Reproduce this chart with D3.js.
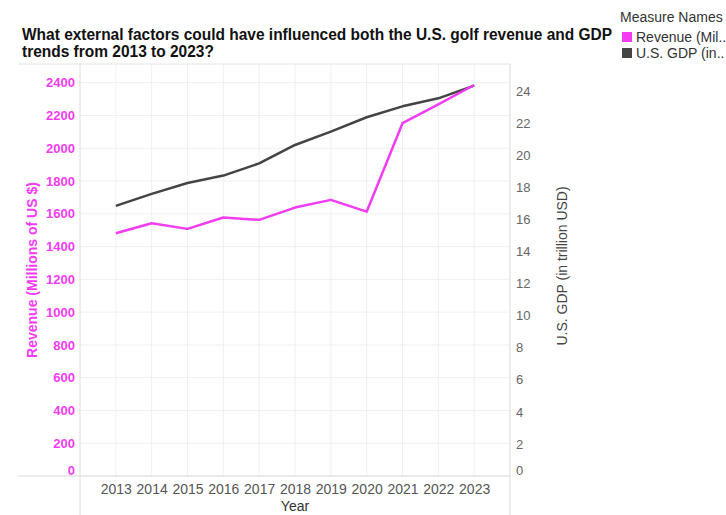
<!DOCTYPE html>
<html><head><meta charset="utf-8">
<script src="https://cdn.jsdelivr.net/npm/d3@7"></script>
<style>body{margin:0;background:#fff;}svg{display:block;}</style>
</head><body>
<svg id="c" width="726" height="515"></svg>
<script>
const years = ["2013","2014","2015","2016","2017","2018","2019","2020","2021","2022","2023"];
const revenue = [1481,1542,1508,1577,1563,1638,1685,1613,2153,2268,2386];
const gdp = [16.85,17.6,18.28,18.74,19.5,20.65,21.48,22.38,23.06,23.56,24.35];
const leftTicks = [0,200,400,600,800,1000,1200,1400,1600,1800,2000,2200,2400];
const rightTicks = [0,2,4,6,8,10,12,14,16,18,20,22,24];
const seriesNames = ["Revenue (Mil..","U.S. GDP (in.."];

const MAG = "#f23cf2", DARK = "#444444";
const svg = d3.select("#c");
const L = 80, R = 510, T = 64, B = 476;
const font = "Liberation Sans, Arial, sans-serif";

const x = d3.scalePoint().domain(years).range([L, R]).padding(1);
const yL = d3.scaleLinear().domain([0, 2514]).range([B, T]);
const yR = d3.scaleLinear().domain([0, 25.7]).range([B, T]);

// gridlines
const g = svg.append("g");
g.selectAll("line.h").data(leftTicks).join("line")
  .attr("x1", L).attr("x2", R).attr("y1", d => yL(d)).attr("y2", d => yL(d))
  .attr("stroke", "#f0f0f0").attr("stroke-width", 1);
g.selectAll("line.v").data(years).join("line")
  .attr("x1", d => x(d)).attr("x2", d => x(d)).attr("y1", T).attr("y2", B)
  .attr("stroke", "#f0f0f0").attr("stroke-width", 1);

// frame lines
svg.append("line").attr("x1", 18).attr("x2", R).attr("y1", T).attr("y2", T).attr("stroke", "#e4e4e4");
svg.append("line").attr("x1", 18).attr("x2", R).attr("y1", B).attr("y2", B).attr("stroke", "#dcdcdc");
svg.append("line").attr("x1", L).attr("x2", L).attr("y1", T).attr("y2", 515).attr("stroke", "#dcdcdc");
svg.append("line").attr("x1", R).attr("x2", R).attr("y1", T).attr("y2", 515).attr("stroke", "#dcdcdc");

// left axis
const la = svg.append("g").attr("transform", `translate(${L - 5},0)`)
  .call(d3.axisLeft(yL).tickValues(leftTicks).tickFormat(d3.format("d")).tickSize(0).tickPadding(0));
la.select(".domain").remove();
la.selectAll("text").attr("fill", MAG).attr("font-weight", "bold").attr("font-size", 13).attr("font-family", font)
  .attr("dy", d => d === 0 ? "-0.1em" : "0.32em");

// right axis
const ra = svg.append("g").attr("transform", `translate(${R + 6},0)`)
  .call(d3.axisRight(yR).tickValues(rightTicks).tickSize(0).tickPadding(0));
ra.select(".domain").remove();
ra.selectAll("text").attr("fill", "#666").attr("font-size", 13).attr("font-family", font)
  .attr("dy", d => d === 0 ? "-0.1em" : "0.32em");

// x axis
const xa = svg.append("g").attr("transform", `translate(0,${B + 8})`)
  .call(d3.axisBottom(x).tickSize(0).tickPadding(0));
xa.select(".domain").remove();
xa.selectAll("text").attr("fill", "#555").attr("font-size", 14).attr("font-family", font).attr("dy", "0.71em");

svg.append("text").attr("x", x("2018")).attr("y", 511).attr("text-anchor", "middle")
  .attr("font-size", 14).attr("font-family", font).attr("fill", "#333").text("Year");

// axis titles
svg.append("text").attr("transform", `translate(37,270) rotate(-90)`).attr("text-anchor", "middle")
  .attr("font-size", 14).attr("font-weight", "bold").attr("font-family", font).attr("fill", MAG)
  .text("Revenue (Millions of US $)");
svg.append("text").attr("transform", `translate(567,266) rotate(-90)`).attr("text-anchor", "middle")
  .attr("font-size", 14).attr("font-family", font).attr("fill", "#444")
  .text("U.S. GDP (in trillion USD)");

// lines
svg.append("path").datum(gdp)
  .attr("d", d3.line().x((d, i) => x(years[i])).y(d => yR(d)))
  .attr("fill", "none").attr("stroke", DARK).attr("stroke-width", 2.5).attr("stroke-linejoin", "round");
svg.append("path").datum(revenue)
  .attr("d", d3.line().x((d, i) => x(years[i])).y(d => yL(d)))
  .attr("fill", "none").attr("stroke", MAG).attr("stroke-width", 2.5).attr("stroke-linejoin", "round");

// title
const title = svg.append("text").attr("font-size", 16).attr("font-weight", "bold")
  .attr("font-family", font).attr("fill", "#111");
const tl1 = title.append("tspan").attr("x", 22).attr("y", 40)
  .text("What external factors could have influenced both the U.S. golf revenue and GDP");
const tl2 = title.append("tspan").attr("x", 22).attr("y", 57).text("trends from 2013 to 2023?");
const w1 = tl1.node().getComputedTextLength();
const w2 = tl2.node().getComputedTextLength();
const ratio = 590 / w1;
tl1.attr("textLength", 590).attr("lengthAdjust", "spacingAndGlyphs");
tl2.attr("textLength", w2 * ratio).attr("lengthAdjust", "spacingAndGlyphs");

// legend
svg.append("text").attr("x", 620).attr("y", 22).attr("font-size", 14).attr("font-family", font)
  .attr("fill", "#333").text("Measure Names");
const lg = svg.selectAll("g.lg").data(seriesNames).join("g")
  .attr("transform", (d, i) => `translate(622,${32 + i * 16})`);
lg.append("rect").attr("width", 10).attr("height", 10).attr("fill", (d, i) => i === 0 ? MAG : DARK);
lg.append("text").attr("x", 14).attr("y", 10).attr("font-size", 14).attr("font-family", font)
  .attr("fill", "#333").text(d => d);
</script>
</body></html>
